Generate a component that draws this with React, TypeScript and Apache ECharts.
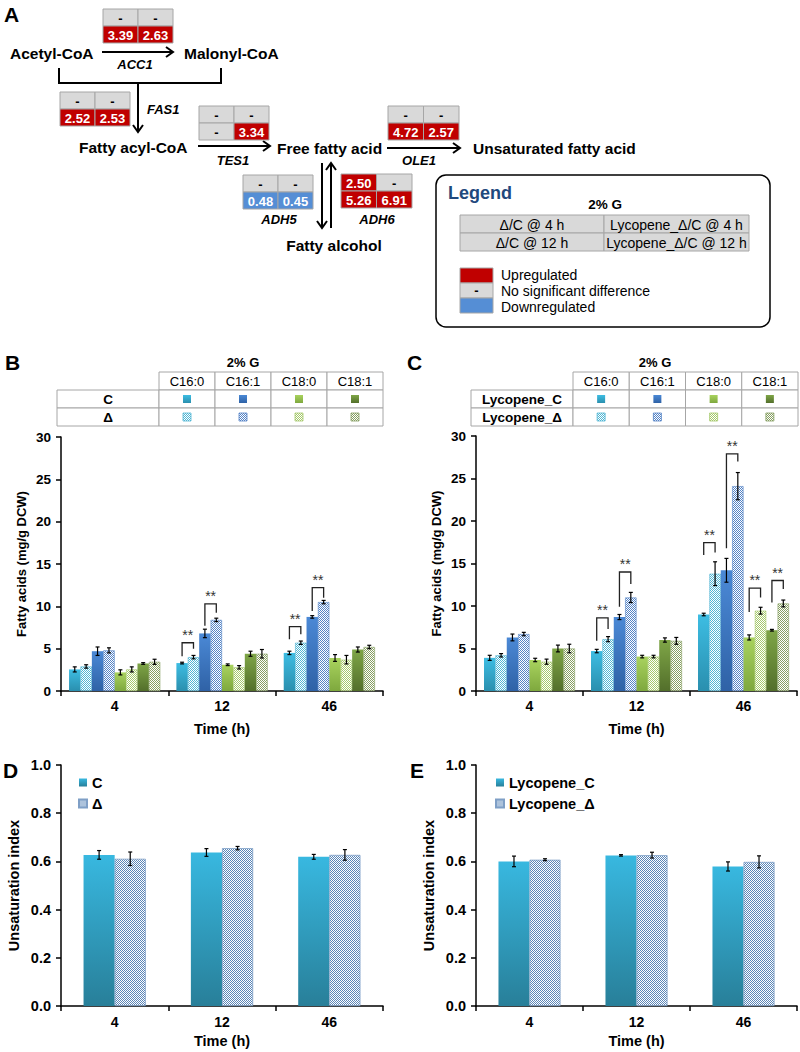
import React, { useEffect, useRef } from 'react';
import * as echarts from 'echarts';

const FONT = '"Liberation Sans", Arial, Helvetica, sans-serif';

// ---------- Panel A : pathway ----------
const metabolites = ['Acetyl-CoA', 'Malonyl-CoA', 'Fatty acyl-CoA', 'Free fatty acid', 'Unsaturated fatty acid', 'Fatty alcohol'];
const geneNames = ['ACC1', 'FAS1', 'TES1', 'OLE1', 'ADH5', 'ADH6'];
// rows: 4 h, 12 h ; columns: Δ/C, Lycopene_Δ/C ; null = no significant difference
const acc1Fold = [[null, null], [3.39, 2.63]];
const fas1Fold = [[null, null], [2.52, 2.53]];
const tes1Fold = [[null, null], [null, 3.34]];
const ole1Fold = [[null, null], [4.72, 2.57]];
const adh5Fold = [[null, null], [0.48, 0.45]];
const adh6Fold = [[2.5, null], [5.26, 6.91]];
const legendCells = [['Δ/C @ 4 h', 'Lycopene_Δ/C @ 4 h'], ['Δ/C @ 12 h', 'Lycopene_Δ/C @ 12 h']];
const legendKeys = ['Upregulated', 'No significant difference', 'Downregulated'];
const conditionLabel = '2% G';

// ---------- Panels B / C ----------
const timeLabels = ['4', '12', '46'];
const fattyAcids = ['C16:0', 'C16:1', 'C18:0', 'C18:1'];
const strainsB = ['C', 'Δ'];
const strainsC = ['Lycopene_C', 'Lycopene_Δ'];
// [fatty acid][time]
const bCMean = [[2.55, 3.3, 4.5], [4.7, 6.8, 8.75], [2.2, 3.1, 3.9], [3.25, 4.4, 4.9]];
const bCErr = [[0.3, 0.1, 0.2], [0.5, 0.5, 0.15], [0.3, 0.1, 0.4], [0.1, 0.3, 0.3]];
const bDMean = [[2.9, 4.0, 5.7], [4.8, 8.4, 10.5], [2.55, 2.8, 3.7], [3.45, 4.4, 5.2]];
const bDErr = [[0.2, 0.2, 0.2], [0.3, 0.2, 0.2], [0.3, 0.2, 0.5], [0.3, 0.5, 0.2]];
const cCMean = [[3.9, 4.7, 9.0], [6.3, 8.7, 14.2], [3.65, 4.05, 6.3], [5.0, 6.0, 7.15]];
const cCErr = [[0.3, 0.2, 0.15], [0.4, 0.3, 1.4], [0.2, 0.15, 0.3], [0.4, 0.25, 0.1]];
const cDMean = [[4.2, 6.1, 13.8], [6.7, 11.0, 24.1], [3.45, 4.05, 9.45], [5.0, 5.9, 10.3]];
const cDErr = [[0.2, 0.3, 1.4], [0.2, 0.6, 1.6], [0.3, 0.15, 0.4], [0.5, 0.4, 0.4]];

// significance brackets (time index, fatty acid index, top, left leg end, right leg end)
const bSigTime = [1, 1, 2, 2];
const bSigAcid = [0, 1, 0, 1];
const bSigTop = [5.7, 10.3, 7.6, 12.2];
const bSigLeft = [4.1, 7.7, 6.1, 9.45];
const bSigRight = [5.0, 9.25, 6.7, 11.0];
const cSigTime = [1, 1, 2, 2, 2, 2];
const cSigAcid = [0, 1, 0, 1, 2, 3];
const cSigTop = [8.6, 14.0, 17.45, 27.9, 12.1, 13.0];
const cSigLeft = [5.9, 9.9, 16.0, 16.8, 9.3, 10.4];
const cSigRight = [7.3, 12.6, 16.3, 27.0, 11.0, 12.0];
const sigMark = '**';

// ---------- Panels D / E : unsaturation index ----------
const dCMean = [0.627, 0.637, 0.619];
const dCErr = [0.018, 0.016, 0.01];
const dDMean = [0.611, 0.655, 0.627];
const dDErr = [0.028, 0.007, 0.022];
const eCMean = [0.6, 0.625, 0.579];
const eCErr = [0.022, 0.003, 0.019];
const eDMean = [0.607, 0.626, 0.598];
const eDErr = [0.004, 0.012, 0.025];

const RED = '#c00000';
const GRAY = '#d9d9d9';
const BLUE = '#558ed5';
const acidTop = ['#3dbde3', '#4b89d6', '#a9d35e', '#7fa647'];
const acidBottom = ['#2a8fae', '#2f62a6', '#7ea83e', '#536f2b'];
const acidPat = ['#52b6d4', '#5584c6', '#a6c96c', '#879f62'];

export default function App() {
  const ref = useRef<HTMLDivElement>(null);

  useEffect(() => {
    if (!ref.current) return;
    const chart = echarts.init(ref.current, null, { renderer: 'svg' });

    const patCache: any = {};
    const pattern = (color: string) => {
      if (patCache[color]) return patCache[color];
      const cv = document.createElement('canvas');
      cv.width = 4; cv.height = 4;
      const ctx = cv.getContext('2d')!;
      ctx.fillStyle = '#ffffff';
      ctx.fillRect(0, 0, 4, 4);
      ctx.fillStyle = color;
      for (let i = 0; i < 4; i++) for (let j = 0; j < 4; j++) if ((i + j) % 2 === 0) ctx.fillRect(i, j, 1, 1);
      const p = { image: cv, repeat: 'repeat', imageWidth: 4, imageHeight: 4 };
      patCache[color] = p;
      return p;
    };
    const grad = (a: string, b: string) =>
      new echarts.graphic.LinearGradient(0, 0, 0, 1, [{ offset: 0, color: a }, { offset: 1, color: b }]);

    // ---- graphic helpers ----
    const T = (x: number, y: number, text: string, o: any = {}) => ({
      type: 'text', x, y, silent: true, z: 10,
      style: {
        text, fill: o.fill || '#000', fontSize: o.size || 13, fontWeight: o.weight || 'normal',
        fontStyle: o.italic ? 'italic' : 'normal', fontFamily: FONT,
        align: o.align || 'center', verticalAlign: o.va || 'middle',
      },
    });
    const R = (x: number, y: number, w: number, h: number, fill: any, stroke: string | null, lw = 1, r = 0) => ({
      type: 'rect', silent: true, z: 5, shape: { x, y, width: w, height: h, r },
      style: { fill, stroke: stroke || 'none', lineWidth: lw },
    });
    const L = (x1: number, y1: number, x2: number, y2: number, lw = 2) => ({
      type: 'line', silent: true, shape: { x1, y1, x2, y2 }, style: { stroke: '#000', lineWidth: lw },
    });
    const P = (points: number[][], lw = 2) => ({
      type: 'polyline', silent: true, shape: { points }, style: { stroke: '#000', lineWidth: lw, fill: 'none' },
    });
    const arrowR = (x1: number, x2: number, y: number) => [L(x1, y, x2, y), P([[x2 - 7, y - 5], [x2, y], [x2 - 7, y + 5]])];
    const arrowD = (x: number, y1: number, y2: number) => [L(x, y1, x, y2), P([[x - 5, y2 - 7], [x, y2], [x + 5, y2 - 7]])];
    const arrowU = (x: number, y1: number, y2: number) => [L(x, y1, x, y2), P([[x - 5, y2 + 7], [x, y2], [x + 5, y2 + 7]])];

    const geneTable = (x: number, y: number, fold: any[][], w = 35, h = 17) => {
      const els: any[] = [];
      fold.forEach((row, r) => row.forEach((v, c) => {
        const fill = v == null ? GRAY : v > 1 ? RED : BLUE;
        els.push(R(x + c * w, y + r * h, w, h, fill, '#a6a6a6', 1));
        els.push(T(x + c * w + w / 2, y + r * h + h / 2 + 0.5, v == null ? '-' : v.toFixed(2),
          { size: 13, weight: 'bold', fill: v == null ? '#000' : '#fff' }));
      }));
      return els;
    };

    const MET = { size: 15.5, weight: 'bold', align: 'left' };
    const GENE = { size: 13, weight: 'bold', italic: true };

    const els: any[] = [];
    // panel letters
    els.push(T(4, 14, 'A', { size: 21, weight: 'bold', align: 'left' }));
    els.push(T(5, 362, 'B', { size: 21, weight: 'bold', align: 'left' }));
    els.push(T(407, 362, 'C', { size: 21, weight: 'bold', align: 'left' }));
    els.push(T(3, 770, 'D', { size: 21, weight: 'bold', align: 'left' }));
    els.push(T(410, 770, 'E', { size: 21, weight: 'bold', align: 'left' }));

    // pathway
    els.push(T(10, 53, metabolites[0], MET));
    els.push(T(184, 53, metabolites[1], MET));
    els.push(T(79, 147, metabolites[2], MET));
    els.push(T(277, 148, metabolites[3], MET));
    els.push(T(473, 148, metabolites[4], MET));
    els.push(T(334, 245, metabolites[5], { ...MET, align: 'center' }));

    els.push(...arrowR(102, 173, 52));
    els.push(P([[59, 68], [59, 83], [221, 83], [221, 68]]));
    els.push(...arrowD(138, 83, 132));
    els.push(...arrowR(198, 270, 146));
    els.push(...arrowR(387, 460, 148));
    els.push(...arrowD(322, 163, 228));
    els.push(...arrowU(331, 228, 163));

    els.push(T(135, 64, geneNames[0], GENE));
    els.push(T(147, 109, geneNames[1], { ...GENE, align: 'left' }));
    els.push(T(233, 160, geneNames[2], GENE));
    els.push(T(419, 160, geneNames[3], GENE));
    els.push(T(279, 219, geneNames[4], GENE));
    els.push(T(377, 219, geneNames[5], GENE));

    els.push(...geneTable(103, 9, acc1Fold));
    els.push(...geneTable(60, 92, fas1Fold));
    els.push(...geneTable(199, 106, tes1Fold));
    els.push(...geneTable(388, 106, ole1Fold, 35.5));
    els.push(...geneTable(243, 175, adh5Fold));
    els.push(...geneTable(341, 174, adh6Fold, 35.5));

    // legend box
    els.push({ ...R(436, 175, 334, 152, '#fff', '#000', 1.5, 10), z: 1 });
    els.push(T(448, 193, 'Legend', { size: 18, weight: 'bold', fill: '#1f497d', align: 'left' }));
    els.push(T(605, 204, conditionLabel, { size: 13.5, weight: 'bold' }));
    legendCells.forEach((row, r) => row.forEach((txt, c) => {
      const x = c === 0 ? 460 : 604;
      const w = c === 0 ? 144 : 145;
      els.push(R(x, 215 + r * 18, w, 18, GRAY, '#a6a6a6', 1));
      els.push(T(x + w / 2, 215 + r * 18 + 9.5, txt, { size: 14 }));
    }));
    const keyFills = [RED, GRAY, BLUE];
    legendKeys.forEach((k, i) => {
      els.push(R(460, 268 + i * 15, 33, 15, keyFills[i], '#a6a6a6', 1));
      if (i === 1) els.push(T(476.5, 268 + i * 15 + 7.5, '-', { size: 13, weight: 'bold' }));
      els.push(T(501, 275 + i * 16, k, { size: 14, align: 'left' }));
    });

    // B / C tables
    const acidTable = (x0: number, colX0: number, colW: number, rowLabels: string[], pctX: number) => {
      const out: any[] = [];
      out.push(T(pctX, 362, conditionLabel, { size: 13, weight: 'bold' }));
      fattyAcids.forEach((fa, i) => {
        out.push(R(colX0 + i * colW, 372, colW, 18, '#fff', '#a6a6a6', 1));
        out.push(T(colX0 + i * colW + colW / 2, 381.5, fa, { size: 13 }));
      });
      rowLabels.forEach((lab, r) => {
        const y = 390 + r * 18;
        out.push(R(x0, y, colX0 - x0, 18, '#fff', '#a6a6a6', 1));
        out.push(T((x0 + colX0) / 2, y + 9.5, lab, { size: 13.5, weight: 'bold' }));
        fattyAcids.forEach((fa, i) => {
          out.push(R(colX0 + i * colW, y, colW, 18, '#fff', '#a6a6a6', 1));
          const cx = colX0 + i * colW + colW / 2;
          if (r === 0) out.push({ ...R(cx - 4, y + 5, 8, 8, grad(acidTop[i], acidBottom[i]), null), z: 6 });
          else out.push({ ...R(cx - 4, y + 5, 8, 8, pattern(acidPat[i]), acidPat[i], 0.8), z: 6 });
        });
      });
      return out;
    };
    els.push(...acidTable(57, 159, 56, strainsB, 243));
    els.push(...acidTable(471, 573, 56.25, strainsC, 655));

    // ---- axes ----
    const GAP_BC = 0.15;
    const GAP_DE = 0.42;
    const xAxis = (gi: number, labelMargin: number, nameGap: number) => ({
      type: 'category', gridIndex: gi, data: timeLabels,
      axisLine: { lineStyle: { color: '#000', width: 1.5 } },
      axisTick: { show: true, length: 5, alignWithLabel: false, interval: 0, lineStyle: { color: '#000', width: 1.5 } },
      axisLabel: { color: '#000', fontWeight: 'bold', fontSize: 14, fontFamily: FONT, margin: labelMargin },
      name: 'Time (h)', nameLocation: 'middle', nameGap,
      nameTextStyle: { color: '#000', fontWeight: 'bold', fontSize: 14.5, fontFamily: FONT },
      splitLine: { show: false },
    });
    const yAxisFA = (gi: number) => ({
      type: 'value', gridIndex: gi, min: 0, max: 30, interval: 5,
      axisLine: { show: true, lineStyle: { color: '#000', width: 1.5 } },
      axisTick: { show: true, length: 5, lineStyle: { color: '#000', width: 1.5 } },
      axisLabel: { color: '#000', fontWeight: 'bold', fontSize: 13.5, fontFamily: FONT, margin: 10 },
      splitLine: { show: false },
      name: 'Fatty acids (mg/g DCW)', nameLocation: 'middle', nameGap: 33,
      nameTextStyle: { color: '#000', fontWeight: 'bold', fontSize: 13, fontFamily: FONT },
    });
    const yAxisUI = (gi: number) => ({
      type: 'value', gridIndex: gi, min: 0, max: 1, interval: 0.2,
      axisLine: { show: true, lineStyle: { color: '#000', width: 1.5 } },
      axisTick: { show: true, length: 5, lineStyle: { color: '#000', width: 1.5 } },
      axisLabel: { color: '#000', fontWeight: 'bold', fontSize: 14.5, fontFamily: FONT, margin: 10, formatter: (v: number) => v.toFixed(1) },
      splitLine: { show: false },
      name: 'Unsaturation index', nameLocation: 'middle', nameGap: 40,
      nameTextStyle: { color: '#000', fontWeight: 'bold', fontSize: 14.5, fontFamily: FONT },
    });

    // ---- series ----
    const series: any[] = [];
    const acidBars = (gi: number, cMean: number[][], dMean: number[][], names: string[]) => {
      for (let a = 0; a < 4; a++) {
        series.push({
          type: 'bar', name: `${names[0]} ${fattyAcids[a]}`, xAxisIndex: gi, yAxisIndex: gi, data: cMean[a],
          barGap: '0%', barCategoryGap: `${GAP_BC * 100}%`, silent: true,
          itemStyle: { color: grad(acidTop[a], acidBottom[a]) },
        });
        series.push({
          type: 'bar', name: `${names[1]} ${fattyAcids[a]}`, xAxisIndex: gi, yAxisIndex: gi, data: dMean[a],
          barGap: '0%', barCategoryGap: `${GAP_BC * 100}%`, silent: true,
          itemStyle: { color: pattern(acidPat[a]), borderColor: acidPat[a], borderWidth: 0.6 },
        });
      }
    };
    acidBars(0, bCMean, bDMean, strainsB);
    acidBars(1, cCMean, cDMean, strainsC);

    const errSeries = (gi: number, data: number[][], nBars: number, gap: number) => ({
      type: 'custom', xAxisIndex: gi, yAxisIndex: gi, silent: true, z: 10, clip: false,
      data, encode: { x: 0, y: 2 },
      renderItem: (params: any, api: any) => {
        const t = api.value(0), b = api.value(1), m = api.value(2), e = api.value(3);
        const band = api.size([1, 0])[0];
        const bw = (band * (1 - gap)) / nBars;
        const c = api.coord([t, m]);
        const x = c[0] + (b - (nBars - 1) / 2) * bw;
        const yT = api.coord([t, m + e])[1];
        const yB = api.coord([t, m - e])[1];
        const st = { stroke: '#000', lineWidth: 1.2 };
        return {
          type: 'group', children: [
            { type: 'line', shape: { x1: x, y1: yT, x2: x, y2: yB }, style: st },
            { type: 'line', shape: { x1: x - 2, y1: yT, x2: x + 2, y2: yT }, style: st },
            { type: 'line', shape: { x1: x - 2, y1: yB, x2: x + 2, y2: yB }, style: st },
          ],
        };
      },
    });
    const acidErrData = (cMean: number[][], cErr: number[][], dMean: number[][], dErr: number[][]) => {
      const out: number[][] = [];
      for (let a = 0; a < 4; a++) for (let t = 0; t < 3; t++) {
        out.push([t, a * 2, cMean[a][t], cErr[a][t]]);
        out.push([t, a * 2 + 1, dMean[a][t], dErr[a][t]]);
      }
      return out;
    };
    series.push(errSeries(0, acidErrData(bCMean, bCErr, bDMean, bDErr), 8, GAP_BC));
    series.push(errSeries(1, acidErrData(cCMean, cCErr, cDMean, cDErr), 8, GAP_BC));

    const sigSeries = (gi: number, times: number[], acids: number[], tops: number[], lefts: number[], rights: number[]) => ({
      type: 'custom', xAxisIndex: gi, yAxisIndex: gi, silent: true, z: 11, clip: false,
      data: times.map((t, i) => [t, acids[i], tops[i], lefts[i], rights[i]]),
      encode: { x: 0, y: 2 },
      renderItem: (params: any, api: any) => {
        const t = api.value(0), a = api.value(1);
        const top = api.value(2), lb = api.value(3), rb = api.value(4);
        const band = api.size([1, 0])[0];
        const bw = (band * (1 - GAP_BC)) / 8;
        const c = api.coord([t, top]);
        const xl = c[0] + (2 * a - 3.5) * bw;
        const xr = c[0] + (2 * a + 1 - 3.5) * bw;
        const yt = c[1];
        const yl = api.coord([t, lb])[1];
        const yr = api.coord([t, rb])[1];
        return {
          type: 'group', children: [
            { type: 'polyline', shape: { points: [[xl, yl], [xl, yt], [xr, yt], [xr, yr]] }, style: { stroke: '#222', lineWidth: 1.3, fill: 'none' } },
            { type: 'text', x: (xl + xr) / 2, y: yt - 1, style: { text: sigMark, fill: '#333', fontSize: 14, fontFamily: FONT, align: 'center', verticalAlign: 'bottom' } },
          ],
        };
      },
    });
    series.push(sigSeries(0, bSigTime, bSigAcid, bSigTop, bSigLeft, bSigRight));
    series.push(sigSeries(1, cSigTime, cSigAcid, cSigTop, cSigLeft, cSigRight));

    const cyanGrad = grad('#38b8e0', '#287f99');
    const uiPat = pattern('#5b86b8');
    const uiBars = (gi: number, names: string[], cMean: number[], dMean: number[]) => {
      series.push({
        type: 'bar', name: names[0], xAxisIndex: gi, yAxisIndex: gi, data: cMean, silent: true,
        barGap: '0%', barCategoryGap: `${GAP_DE * 100}%`, itemStyle: { color: cyanGrad },
      });
      series.push({
        type: 'bar', name: names[1], xAxisIndex: gi, yAxisIndex: gi, data: dMean, silent: true,
        barGap: '0%', barCategoryGap: `${GAP_DE * 100}%`, itemStyle: { color: uiPat, borderColor: '#7f9fc6', borderWidth: 0.8 },
      });
    };
    uiBars(2, strainsB, dCMean, dDMean);
    uiBars(3, strainsC, eCMean, eDMean);
    const uiErrData = (cMean: number[], cErr: number[], dMean: number[], dErr: number[]) => {
      const out: number[][] = [];
      for (let t = 0; t < 3; t++) {
        out.push([t, 0, cMean[t], cErr[t]]);
        out.push([t, 1, dMean[t], dErr[t]]);
      }
      return out;
    };
    series.push(errSeries(2, uiErrData(dCMean, dCErr, dDMean, dDErr), 2, GAP_DE));
    series.push(errSeries(3, uiErrData(eCMean, eCErr, eDMean, eDErr), 2, GAP_DE));

    const legendBase = {
      orient: 'vertical', itemWidth: 8, itemHeight: 8, itemGap: 6, selectedMode: false, icon: 'rect', padding: 0,
      textStyle: { color: '#000', fontWeight: 'bold', fontSize: 14.5, fontFamily: FONT },
    };

    chart.setOption({
      animation: false,
      backgroundColor: '#fff',
      textStyle: { fontFamily: FONT },
      grid: [
        { left: 61, top: 437, width: 322, height: 254 },
        { left: 476, top: 436, width: 321, height: 255 },
        { left: 61, top: 765, width: 322, height: 241 },
        { left: 476, top: 765, width: 321, height: 241 },
      ],
      xAxis: [xAxis(0, 8, 30), xAxis(1, 8, 30), xAxis(2, 9, 27), xAxis(3, 9, 27)],
      yAxis: [yAxisFA(0), yAxisFA(1), yAxisUI(2), yAxisUI(3)],
      legend: [
        { ...legendBase, data: strainsB, left: 78, top: 775 },
        { ...legendBase, data: strainsC, left: 495, top: 775 },
      ],
      series,
      graphic: { elements: els },
    });

    return () => chart.dispose();
  }, []);

  return <div ref={ref} style={{ position: 'absolute', left: 0, top: 0, width: 800, height: 1052 }} />;
}
